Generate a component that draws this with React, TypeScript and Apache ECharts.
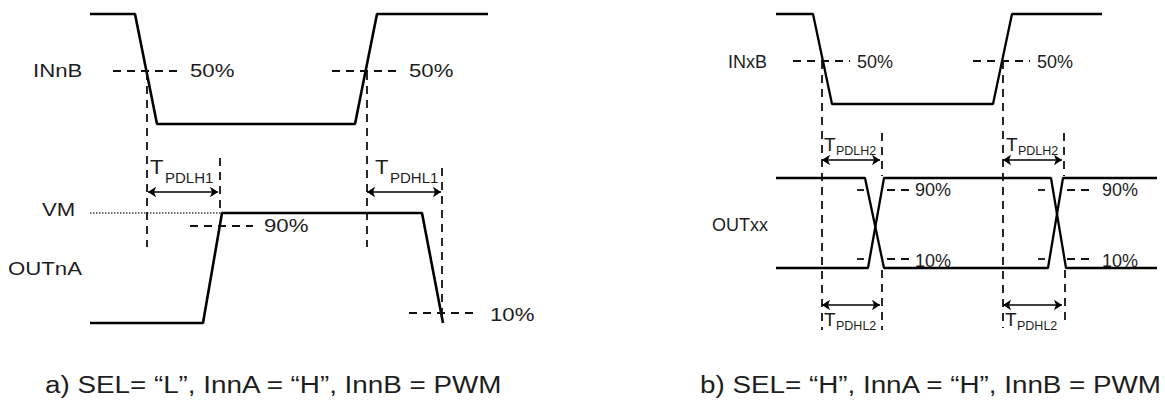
import React, { useEffect, useRef } from "react";
import * as echarts from "echarts";

const W = 1165;
const H = 401;

// ---- Panel a) waveforms (diagram coordinates: x = time, y = level, top-down) ----
const inNB = [[90, 14], [135, 14], [157, 124], [355, 124], [377, 14], [488, 14]];
const outNA = [[90, 323], [203, 323], [222, 213], [422, 213], [443, 323]];
const vmLevel = [[90, 213], [222, 213]];

// ---- Panel b) waveforms ----
const inXB = [[776, 14], [813, 14], [832, 104], [993, 104], [1012, 14], [1102, 14]];
const outXXFall = [[776, 178], [865, 178], [884, 268], [1048, 268], [1063, 178], [1157, 178]];
const outXXRise = [[776, 268], [868, 268], [884, 178], [1051, 178], [1066, 268], [1157, 268]];

// ---- dashed guide segments ----
const dashedGuides = [
  [[113, 71], [180, 71]],
  [[332, 71], [400, 71]],
  [[147, 72], [147, 247]],
  [[367, 72], [367, 247]],
  [[220, 158], [220, 213]],
  [[442, 168], [442, 318]],
  [[190, 226], [253, 226]],
  [[409, 313], [477, 313]],
  [[793, 61], [850, 61]],
  [[973, 61], [1030, 61]],
  [[822, 61], [822, 330]],
  [[1003, 61], [1003, 328]],
  [[882, 133], [882, 176]],
  [[882, 270], [882, 330]],
  [[1064, 133], [1064, 176]],
  [[1065, 270], [1065, 326]],
  [[887, 190], [913, 190]],
  [[887, 259], [913, 259]],
  [[1067, 190], [1094, 190]],
  [[1067, 259], [1094, 259]],
];
const shortTicks = [
  [[857, 190], [864, 190]],
  [[857, 259], [864, 259]],
  [[1038, 190], [1045, 190]],
  [[1038, 259], [1045, 259]],
];

// ---- timing arrows ----
const arrowSpans = [
  [[148, 192], [218, 192]],
  [[367, 192], [441, 192]],
  [[822, 160], [880, 160]],
  [[1003, 160], [1062, 160]],
  [[822, 305], [880, 305]],
  [[1003, 305], [1062, 305]],
];

// ---- texts ----
const labelsA: [string, number, number][] = [
  ["INnB", 33, 71],
  ["50%", 190, 71],
  ["50%", 409, 71],
  ["VM", 42, 210],
  ["90%", 264, 226],
  ["OUTnA", 8, 269],
  ["10%", 490, 315],
];
const labelsB: [string, number, number][] = [
  ["INxB", 728, 61.5],
  ["50%", 857, 61.5],
  ["50%", 1037, 61.5],
  ["90%", 915, 189.5],
  ["90%", 1102, 189.5],
  ["10%", 915, 260.5],
  ["10%", 1102, 260.5],
  ["OUTxx", 712, 224.5],
];
const timingA: [string, number, number][] = [
  ["PDLH1", 150, 167],
  ["PDHL1", 375, 167],
];
const timingB: [string, number, number][] = [
  ["PDLH2", 824, 144],
  ["PDLH2", 1006, 144],
  ["PDHL2", 824, 319.5],
  ["PDHL2", 1005, 319.5],
];
const captions: [string, number, number][] = [
  ["a) SEL= \u201cL\u201d, InnA = \u201cH\u201d, InnB = PWM", 45, 385],
  ["b) SEL= \u201cH\u201d, InnA = \u201cH\u201d, InnB = PWM", 700, 385],
];

const FONT = '"Liberation Sans", Arial, Helvetica, sans-serif';
const TXT = "#1e1e1e";

export default function App() {
  const ref = useRef<HTMLDivElement>(null);
  useEffect(() => {
    if (!ref.current) return;
    const chart = echarts.init(ref.current, null, { renderer: "svg" });
    const line = (data: number[][], width: number, type: any = "solid", color = "#000") => ({
      type: "line",
      data,
      symbol: "none",
      showSymbol: false,
      silent: true,
      animation: false,
      lineStyle: { color, width, type, cap: "butt" },
      z: 3,
    });
    const series: any[] = [];
    const main = line(inNB, 2.6);
    (main as any).markLine = {
      silent: true,
      symbol: ["arrow", "arrow"],
      symbolSize: 8,
      label: { show: false },
      emphasis: { disabled: true },
      lineStyle: { color: "#000", width: 1.7, type: "solid" },
      data: arrowSpans.map(([a, b]) => [{ coord: a }, { coord: b }]),
    };
    series.push(main);
    series.push(line(outNA, 2.6));
    series.push(line(vmLevel, 1.3, [1.5, 1.5], "#444"));
    series.push(line(inXB, 2.3));
    series.push(line(outXXFall, 2.3));
    series.push(line(outXXRise, 2.3));
    dashedGuides.forEach((seg) => series.push(line(seg, 1.8, [8, 6], "#111")));
    shortTicks.forEach((seg) => series.push(line(seg, 1.8, "solid", "#111")));

    chart.setOption({
      animation: false,
      grid: { left: 0, right: 0, top: 0, bottom: 0 },
      xAxis: { type: "value", min: 0, max: W, show: false },
      yAxis: { type: "value", min: 0, max: H, inverse: true, show: false },
      series,
    });

    const px = (x: number, y: number) => chart.convertToPixel({ gridIndex: 0 }, [x, y]) as number[];
    const text = (t: string, x: number, y: number, size: number, scaleX = 1) => {
      const p = px(x, y);
      return {
        type: "text",
        x: p[0],
        y: p[1],
        scaleX,
        silent: true,
        style: {
          text: t,
          fill: TXT,
          fontSize: size,
          fontFamily: FONT,
          align: "left",
          verticalAlign: "middle",
        },
      };
    };
    const graphic: any[] = [];
    labelsA.forEach(([t, x, y]) => graphic.push(text(t, x, y, 18.5, 1.2)));
    labelsB.forEach(([t, x, y]) => graphic.push(text(t, x, y, 18, 1)));
    timingA.forEach(([s, x, y]) => {
      graphic.push(text("T", x, y, 21, 1.05));
      graphic.push(text(s, x + 15, y + 10, 15, 1));
    });
    timingB.forEach(([s, x, y]) => {
      graphic.push(text("T", x, y, 19, 1));
      graphic.push(text(s, x + 12, y + 6.5, 12.5, 1));
    });
    captions.forEach(([t, x, y]) => graphic.push(text(t, x, y, 24.5, 1.135)));
    chart.setOption({ graphic });

    return () => chart.dispose();
  }, []);
  return (
    <div
      ref={ref}
      style={{ position: "fixed", left: 0, top: 0, width: W, height: H, background: "#fff" }}
    />
  );
}
